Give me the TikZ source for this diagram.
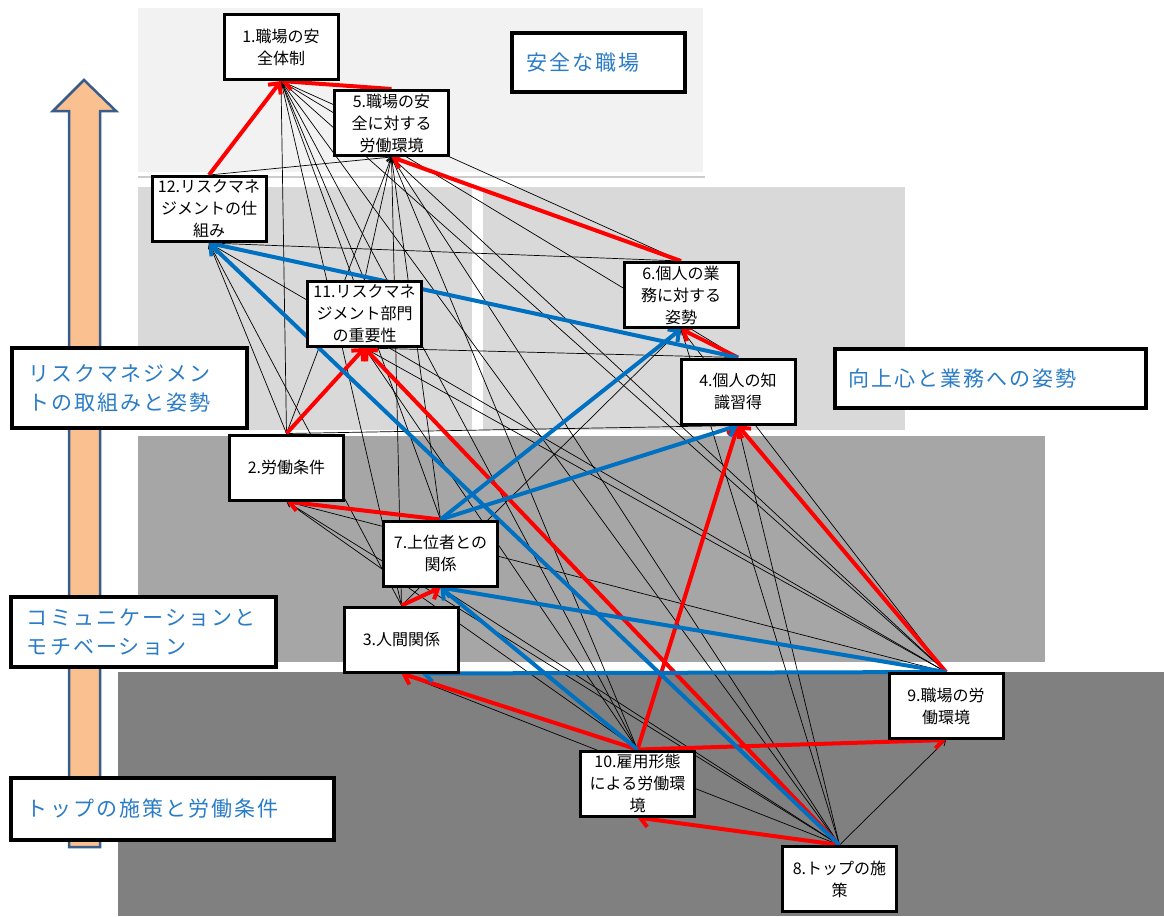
\documentclass[tikz,border=0pt]{standalone}
\usepackage{fontspec}
\newfontfamily\jpfont{Noto Sans CJK JP}
\newfontfamily\lblfont[LetterSpace=10]{Noto Sans CJK JP}
\usetikzlibrary{arrows.meta,calc,shadows}
\definecolor{bandA}{HTML}{F2F2F2}
\definecolor{bandB}{HTML}{D9D9D9}
\definecolor{bandC}{HTML}{A6A6A6}
\definecolor{bandD}{HTML}{808080}
\definecolor{arrowfill}{HTML}{FAC090}
\definecolor{arrowline}{HTML}{385D8A}
\definecolor{lblblue}{HTML}{2A7CC6}
\definecolor{linkred}{HTML}{FF0000}
\definecolor{linkblue}{HTML}{0070C0}
\pgfdeclarelayer{bands}
\pgfdeclarelayer{links}
\pgfsetlayers{bands,links,main}
\tikzset{
  factor/.style={draw=black, line width=3pt, fill=white, minimum width=114pt,
    minimum height=65pt, inner sep=0pt, align=center,
    font=\jpfont\fontsize{16}{22}\selectfont},
  layerlabel/.style={draw=black, line width=4pt, fill=white, inner ysep=0pt,
    align=left, text=lblblue, font=\lblfont\fontsize{21}{29}\selectfont,
    drop shadow={shadow xshift=2pt, shadow yshift=-2pt, opacity=0.35}},
  wlink/.style={draw=black, line width=0.7pt, -{Straight Barb[length=5pt,width=6pt]}},
  rlink/.style={draw=linkred, line width=4pt, -{Straight Barb[length=8pt,width=16pt]}},
  blink/.style={draw=linkblue, line width=4pt, -{Straight Barb[length=8pt,width=16pt]}},
}
\begin{document}
\begin{tikzpicture}[x=1pt,y=-1pt]
\useasboundingbox (0,0) rectangle (1164,916);

% layered background bands
\begin{pgfonlayer}{bands}
  \fill[white] (0,0) rectangle (1164,916);
  \fill[bandA] (138,8) rectangle (703,172);
  \draw[black!20, line width=1.5pt] (138,177) -- (705,177);
  \fill[bandB] (138,187) rectangle (472,430);
  \fill[bandB] (483,187) rectangle (905,430);
  \fill[bandC] (138,436) rectangle (1045,662);
  \fill[bandD] (118,672) rectangle (1164,916);
  % upward arrow on the left
  \filldraw[fill=arrowfill, draw=arrowline, line width=2.5pt, line join=miter]
    (69,847) -- (69,111) -- (53,111) -- (84,80) -- (116,111) -- (100,111) -- (100,847) -- cycle;
\end{pgfonlayer}

% factors
\node[factor] (n1)  at (281,47)    {1.職場の安\\全体制};
\node[factor] (n5)  at (391.5,123) {5.職場の安\\全に対する\\労働環境};
\node[factor] (n12) at (209,209)   {12.リスクマネ\\ジメントの仕\\組み};
\node[factor] (n11) at (364.5,314) {11.リスクマネ\\ジメント部門\\の重要性};
\node[factor] (n6)  at (681,295)   {6.個人の業\\務に対する\\姿勢};
\node[factor] (n4)  at (738,391.5) {4.個人の知\\識習得};
\node[factor] (n2)  at (286.5,467.5) {2.労働条件};
\node[factor] (n7)  at (440.5,553.5) {7.上位者との\\関係};
\node[factor] (n3)  at (401.5,639.5) {3.人間関係};
\node[factor] (n9)  at (946,706)   {9.職場の労\\働環境};
\node[factor] (n10) at (637.5,783.5) {10.雇用形態\\による労働環\\境};
\node[factor] (n8)  at (839.5,879) {8.トップの施\\策};

% layer labels
\node[layerlabel, text width=145pt, inner xsep=14pt, minimum height=59pt] (lA) at (598.5,62.5) {安全な職場};
\node[layerlabel, text width=203pt, inner xsep=16pt, minimum height=80pt] (lB) at (129.5,388) {リスクマネジメン\\トの取組みと姿勢};
\node[layerlabel, text width=285pt, inner xsep=13pt, minimum height=59pt] (lC) at (990.5,378.5) {向上心と業務への姿勢};
\node[layerlabel, text width=233pt, inner xsep=16pt, minimum height=70pt] (lD) at (143.5,632) {コミュニケーションと\\モチベーション};
\node[layerlabel, text width=291pt, inner xsep=16pt, minimum height=62pt] (lE) at (172.5,809) {トップの施策と労働条件};

\begin{pgfonlayer}{links}
  % weaker influences
  \foreach \s/\t in {n2/n1, n6/n1, n4/n1, n11/n1, n7/n1, n3/n1, n10/n1, n8/n1, n9/n1,
                     n12/n5, n2/n5, n11/n5, n7/n5, n3/n5, n10/n5, n8/n5, n9/n5,
                     n2/n12, n6/n12, n9/n12, n3/n12,
                     n4/n11, n10/n11, n9/n11,
                     n8/n6, n9/n6, n3/n6,
                     n2/n4, n8/n4,
                     n9/n2, n8/n2, n10/n2,
                     n8/n7, n8/n3, n8/n9}
    \draw[wlink] (\s.north) -- (\t.south);
  % strong positive paths
  \foreach \s/\t in {n12/n1, n5/n1, n6/n5, n4/n6, n2/n11, n8/n11, n7/n2,
                     n3/n7, n10/n3, n10/n9, n8/n10, n9/n4, n10/n4}
    \draw[rlink] (\s.north) -- (\t.south);
  % strong communication paths
  \foreach \s/\t in {n4/n12, n8/n12, n7/n6, n7/n4, n9/n7, n10/n7}
    \draw[blink] (\s.north) -- (\t.south);
  \draw[blink] (n9.north) -- ($(n3.south)+(20,0)$);
\end{pgfonlayer}
\end{tikzpicture}
\end{document}
